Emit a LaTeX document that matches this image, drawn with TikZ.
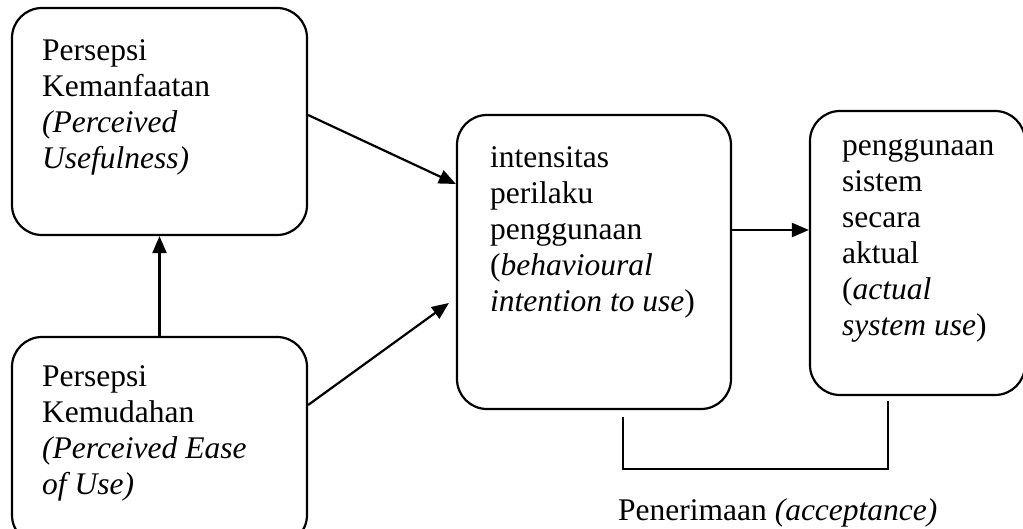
\documentclass[tikz,border=0pt]{standalone}
\usepackage{fontspec}
\setmainfont{Liberation Serif}
\usepackage{tikz}
\usetikzlibrary{arrows.meta, positioning, calc}
\newcommand{\tamfont}{\fontsize{31.5}{36}\selectfont}

\begin{document}
\begin{tikzpicture}[x=1pt,y=-1pt,
	box/.style={draw, line width=2.2, rounded corners=30, inner sep=0},
	txt/.style={anchor=north west, align=left, inner sep=0, font=\tamfont},
	arr/.style={line width=2.2, -{Triangle[length=17,width=14]}}]
				\clip (0,0) rectangle (1023,529);
				% kotak
				\node[box, minimum width=295, minimum height=227] (pu) at (159.5,121.5) {};
				\node[box, minimum width=295, minimum height=208] (peou) at (159.5,441) {};
				\node[box, minimum width=274, minimum height=294] (bi) at (594,262) {};
				\node[box, minimum width=215, minimum height=284] (asu) at (917.5,253) {};
				% teks
				\node[txt] (tpu) at (42,39) {Persepsi\\Kemanfaatan\\\textit{(Perceived}\\\textit{Usefulness)}};
				\node[txt] (tpeou) at (42,365) {Persepsi\\Kemudahan\\\textit{(Perceived Ease}\\\textit{of Use)}};
				\node[txt] (tbi) at (490,146) {intensitas\\perilaku\\penggunaan\\(\textit{behavioural}\\\textit{intention to use})};
				\node[txt] (tasu) at (842,139) {penggunaan\\sistem\\secara\\aktual\\(\textit{actual}\\\textit{system use})};
				\node[anchor=base west, inner sep=0, font=\tamfont] (acc) at (618,520) {Penerimaan \textit{(acceptance)}};
				% panah
				\draw[arr] ([yshift=6.5]pu.east) -- ([yshift=78]bi.west);
				\draw[arr] ([yshift=36]peou.east) -- ([xshift=-7,yshift=-41]bi.west);
				\draw[arr] (peou.north) -- (pu.south);
				\draw[arr] ([yshift=32]bi.east) -- ([yshift=32]bi.east -| asu.west);
				\draw[line width=2.2] ([xshift=29,yshift=-7]bi.south) -- ++(0,52) -| ([xshift=-29.5,yshift=-5]asu.south);
			\end{tikzpicture}
\end{document}
